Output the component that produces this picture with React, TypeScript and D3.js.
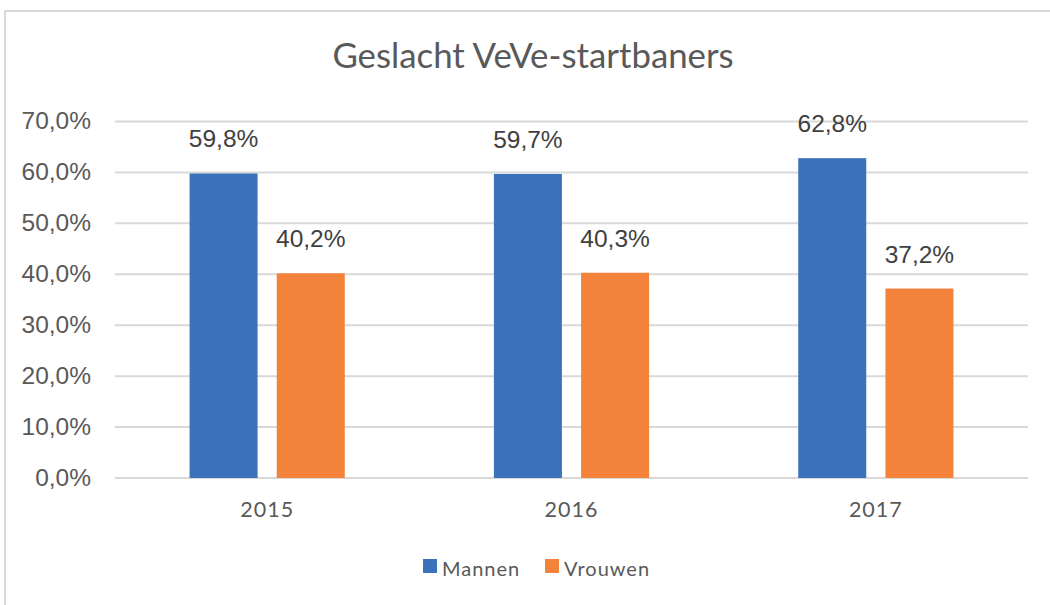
import React, { useEffect, useRef } from 'react';
import * as d3 from 'd3';

const years = ['2015', '2016', '2017'];
const series = ['Mannen', 'Vrouwen'];
const mannen = [59.8, 59.7, 62.8];
const vrouwen = [40.2, 40.3, 37.2];
const yTicks = [0, 10, 20, 30, 40, 50, 60, 70];
const colors = ['#3c71bb', '#f3823b'];

const W = 1050, H = 605;

const fmt = (v: number) => v.toFixed(1).replace('.', ',') + '%';

export default function App() {
    const ref = useRef<SVGSVGElement>(null);

    useEffect(() => {
        const svg = d3.select(ref.current);
        svg.selectAll('*').remove();

        const left = 115, right = 1028, bottom = 478, top = 121.5;

        const x0 = d3.scaleBand<string>()
            .domain(years)
            .range([left, right])
            .paddingInner(0.49)
            .paddingOuter(0.245);
        const x1 = d3.scaleBand<string>()
            .domain(series)
            .range([0, x0.bandwidth()])
            .paddingInner(0.22);
        const y = d3.scaleLinear().domain([0, 70]).range([bottom, top]);

        // frame
        svg.append('path')
            .attr('d', `M5,${H} L5,11 L${W},11`)
            .attr('fill', 'none')
            .attr('stroke', '#d9d9d9')
            .attr('stroke-width', 2);

        // title
        svg.append('text')
            .attr('x', 533)
            .attr('y', 68)
            .attr('text-anchor', 'middle')
            .attr('font-family', 'Lato')
            .attr('font-size', 34.8)
            .attr('fill', '#595959')
            .text('Geslacht VeVe-startbaners');

        // grid + y labels
        const yAxis = svg.append('g');
        yTicks.forEach(t => {
            yAxis.append('line')
                .attr('x1', left).attr('x2', right)
                .attr('y1', y(t)).attr('y2', y(t))
                .attr('stroke', '#d9d9d9')
                .attr('stroke-width', 2);
            yAxis.append('text')
                .attr('x', 91)
                .attr('y', y(t) + 7.5)
                .attr('text-anchor', 'end')
                .attr('font-family', 'Liberation Sans, Arial')
                .attr('font-size', 24.5)
                .attr('fill', '#595959')
                .text(fmt(t));
        });

        // bars
        const data = [mannen, vrouwen];
        const groups = svg.append('g');
        years.forEach((yr, i) => {
            series.forEach((s, j) => {
                const v = data[j][i];
                const bx = x0(yr)! + x1(s)!;
                groups.append('rect')
                    .attr('x', bx)
                    .attr('y', y(v))
                    .attr('width', x1.bandwidth())
                    .attr('height', bottom - y(v))
                    .attr('fill', colors[j]);
                groups.append('text')
                    .attr('x', bx + x1.bandwidth() / 2)
                    .attr('y', y(v) - 26)
                    .attr('text-anchor', 'middle')
                    .attr('font-family', 'Liberation Sans, Arial')
                    .attr('font-size', 24.5)
                    .attr('fill', '#404040')
                    .text(fmt(v));
            });
            svg.append('text')
                .attr('x', x0(yr)! + x0.bandwidth() / 2)
                .attr('y', 517)
                .attr('text-anchor', 'middle')
                .attr('font-family', 'Lato')
                .attr('font-size', 21.5)
                .attr('letter-spacing', 1)
                .attr('fill', '#595959')
                .text(yr);
        });

        // legend
        const legendX = [423, 545];
        series.forEach((s, j) => {
            svg.append('rect')
                .attr('x', legendX[j])
                .attr('y', 559)
                .attr('width', 14)
                .attr('height', 14)
                .attr('fill', colors[j]);
            svg.append('text')
                .attr('x', legendX[j] + 19)
                .attr('y', 576)
                .attr('font-family', 'Lato')
                .attr('font-size', 20)
                .attr('letter-spacing', 1)
                .attr('fill', '#595959')
                .text(s);
        });
    }, []);

    return (
        <svg ref={ref} width={W} height={H}
            style={{ position: 'absolute', left: 0, top: 0, background: '#fff' }} />
    );
}
